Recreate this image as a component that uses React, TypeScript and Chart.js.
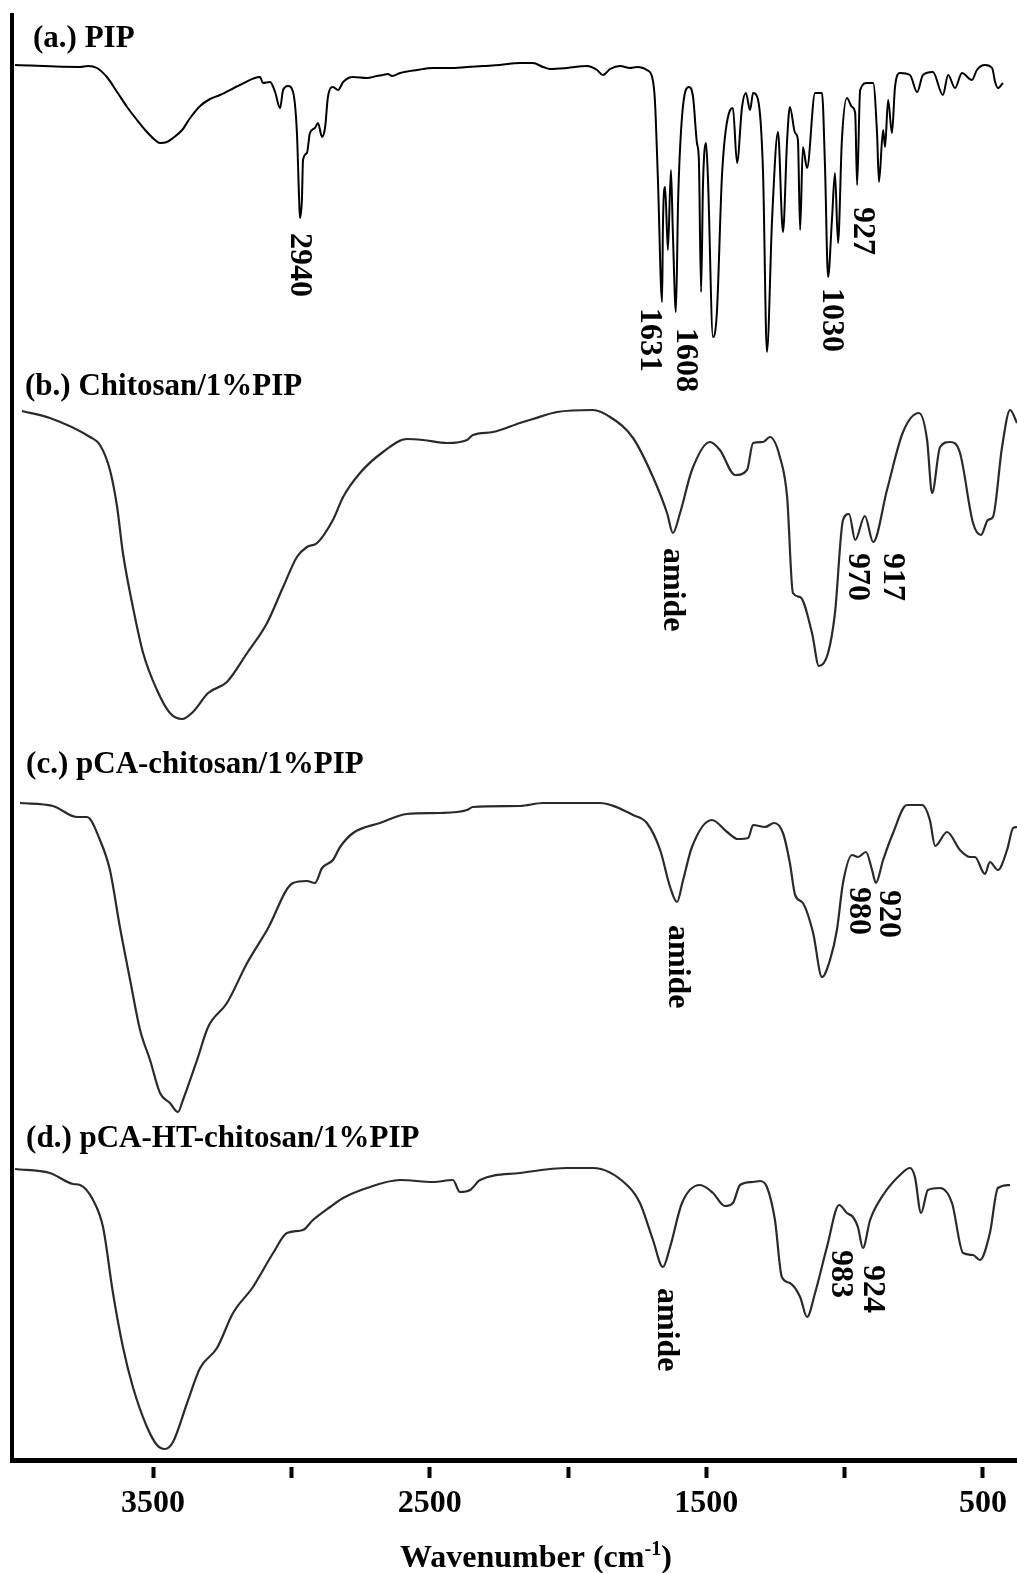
import React, { useEffect, useRef } from 'react';
import { Chart, registerables } from 'chart.js';

Chart.register(...registerables);

// ---------- Data (wavenumber in cm-1, transmittance in arbitrary units) ----------
const traceNames = ['(a.) PIP', '(b.) Chitosan/1%PIP', '(c.) pCA-chitosan/1%PIP', '(d.) pCA-HT-chitosan/1%PIP'];
const traceOffsets = [1050, 700, 330, 0];

const pipWavenumber = [3999, 3764, 3735, 3703, 3667, 3630, 3594, 3558, 3522, 3493, 3475, 3450, 3428, 3395, 3366, 3330, 3294, 3258, 3186, 3113, 3103, 3077, 3059, 3041, 3030, 3012, 2994, 2980, 2972, 2969, 2962, 2958, 2944, 2933, 2915, 2904, 2889, 2878, 2868, 2850, 2831, 2813, 2777, 2727, 2691, 2669, 2651, 2636, 2607, 2546, 2488, 2427, 2365, 2307, 2246, 2174, 2127, 2090, 2065, 2004, 1931, 1895, 1874, 1848, 1812, 1776, 1751, 1729, 1715, 1696, 1686, 1675, 1660, 1657, 1649, 1639, 1628, 1621, 1610, 1602, 1588, 1563, 1548, 1534, 1527, 1519, 1512, 1501, 1494, 1476, 1462, 1443, 1414, 1404, 1389, 1371, 1357, 1342, 1331, 1313, 1295, 1281, 1262, 1241, 1223, 1208, 1198, 1179, 1169, 1161, 1151, 1136, 1107, 1082, 1071, 1060, 1046, 1035, 1024, 1010, 992, 973, 962, 955, 944, 919, 897, 883, 876, 861, 854, 843, 829, 818, 800, 764, 738, 717, 681, 645, 626, 601, 576, 540, 522, 493, 467, 456, 446, 428];
const pipValue = [345, 343, 344, 342, 333, 318, 303, 290, 278, 270, 267, 268, 272, 280, 292, 304, 311, 315, 325, 333, 327, 328, 318, 302, 320, 324, 318, 277, 210, 192, 210, 250, 257, 277, 282, 287, 273, 283, 313, 323, 320, 328, 333, 332, 334, 335, 336, 334, 337, 340, 342, 342, 343, 344, 345, 347, 347, 343, 341, 342, 344, 340, 335, 341, 344, 342, 343, 342, 340, 333, 310, 230, 108, 183, 223, 160, 240, 177, 98, 210, 293, 323, 313, 267, 250, 118, 227, 267, 230, 73, 97, 237, 300, 302, 247, 303, 317, 300, 317, 310, 237, 58, 193, 278, 178, 270, 303, 277, 270, 180, 263, 242, 317, 317, 243, 133, 190, 237, 167, 270, 312, 303, 297, 225, 320, 327, 327, 277, 228, 280, 263, 310, 277, 323, 337, 335, 318, 335, 338, 315, 335, 322, 337, 330, 340, 345, 342, 328, 322, 327];

const chitosanWavenumber = [3974, 3873, 3728, 3692, 3656, 3630, 3609, 3573, 3536, 3486, 3439, 3395, 3356, 3301, 3233, 3160, 3088, 3030, 2980, 2944, 2907, 2850, 2813, 2752, 2669, 2582, 2524, 2437, 2365, 2344, 2271, 2174, 2127, 2040, 1910, 1848, 1765, 1693, 1642, 1621, 1595, 1552, 1487, 1451, 1396, 1353, 1331, 1295, 1270, 1234, 1208, 1187, 1161, 1118, 1093, 1060, 1035, 1006, 984, 962, 927, 897, 847, 789, 731, 702, 684, 655, 619, 583, 536, 507, 482, 464, 431, 402, 377];
const chitosanValue = [349, 342, 323, 315, 290, 253, 207, 153, 107, 70, 47, 41, 48, 67, 78, 107, 137, 173, 203, 213, 217, 240, 263, 287, 308, 321, 320, 317, 320, 325, 328, 337, 341, 348, 350, 343, 322, 283, 247, 227, 247, 290, 318, 310, 285, 290, 317, 318, 323, 303, 263, 167, 163, 127, 94, 107, 147, 240, 246, 220, 244, 218, 270, 328, 347, 320, 267, 313, 318, 307, 237, 225, 240, 243, 313, 350, 337];

const pcaWavenumber = [3981, 3862, 3775, 3739, 3692, 3656, 3620, 3583, 3547, 3511, 3475, 3439, 3410, 3392, 3341, 3301, 3233, 3160, 3088, 2994, 2944, 2915, 2889, 2850, 2824, 2777, 2680, 2582, 2463, 2365, 2344, 2174, 2090, 1884, 1765, 1715, 1667, 1631, 1606, 1584, 1552, 1480, 1425, 1386, 1349, 1331, 1288, 1255, 1223, 1198, 1179, 1151, 1114, 1082, 1053, 1028, 1006, 973, 952, 923, 901, 887, 861, 825, 775, 720, 692, 673, 630, 583, 547, 529, 493, 475, 446, 413, 391, 377];
const pcaValue = [327, 324, 313, 313, 290, 260, 203, 150, 100, 70, 37, 27, 18, 30, 70, 103, 127, 167, 200, 247, 249, 247, 262, 270, 283, 297, 307, 316, 317, 320, 323, 324, 327, 327, 315, 307, 280, 243, 228, 250, 283, 310, 298, 291, 292, 305, 303, 307, 297, 267, 235, 227, 197, 153, 170, 200, 247, 275, 273, 278, 260, 247, 270, 297, 325, 325, 310, 284, 298, 280, 273, 273, 256, 268, 260, 280, 302, 303];

const pcaHtWavenumber = [3999, 3873, 3789, 3764, 3717, 3681, 3645, 3609, 3573, 3522, 3486, 3457, 3428, 3377, 3330, 3269, 3211, 3139, 3066, 3016, 2958, 2922, 2860, 2813, 2727, 2607, 2488, 2416, 2391, 2354, 2318, 2174, 2004, 1910, 1787, 1740, 1693, 1657, 1631, 1588, 1523, 1476, 1433, 1404, 1378, 1331, 1306, 1281, 1252, 1227, 1198, 1161, 1136, 1107, 1064, 1020, 992, 970, 952, 934, 908, 861, 800, 764, 746, 724, 699, 655, 612, 572, 536, 511, 475, 446, 402];
const pcaHtValue = [291, 287, 276, 275, 260, 233, 167, 113, 73, 33, 15, 11, 18, 57, 92, 112, 147, 173, 207, 227, 230, 240, 253, 262, 272, 280, 278, 280, 268, 270, 280, 287, 292, 292, 275, 257, 220, 193, 213, 257, 275, 267, 254, 257, 275, 278, 279, 273, 240, 183, 177, 163, 143, 167, 213, 255, 247, 243, 233, 212, 240, 265, 285, 292, 283, 247, 270, 272, 257, 207, 205, 200, 227, 272, 275];

// Peak annotations
const peakLabelTexts = ['2940', '1631', '1608', '1030', '927', 'amide', '970', '917', 'amide', '980', '920', 'amide', '983', '924'];
const peakLabelTrace = [0, 0, 0, 0, 0, 1, 1, 1, 2, 2, 2, 3, 3, 3];
const peakLabelWavenumber = [2972, 1707, 1577, 1049, 937, 1624, 955, 829, 1606, 952, 843, 1646, 1017, 901];
const peakLabelLevel = [177, 102, 82, 122, 203, 212, 207, 207, 205, 243, 240, 172, 210, 195];

// Trace title anchors
const titleWavenumber = [3934, 3963, 3959, 3959];
const titleLevel = [363, 365, 357, 313];

// Axis
const xMin = 377;
const xMax = 4010;
const tickValues = [3500, 3000, 2500, 2000, 1500, 1000, 500];
const tickLabels = ['3500', '', '2500', '', '1500', '', '500'];
const axisTitleMain = 'Wavenumber (cm';
const axisTitleSup = '-1';
const axisTitleEnd = ')';
const axisTitleCenterWavenumber = 2116;

const SERIF = '"Liberation Serif", "Times New Roman", Times, serif';

const traceWavenumbers = [pipWavenumber, chitosanWavenumber, pcaWavenumber, pcaHtWavenumber];
const traceValues = [pipValue, chitosanValue, pcaValue, pcaHtValue];
const traceColors = ['#000000', '#2a2a2a', '#2a2a2a', '#2a2a2a'];

const textPlugin = {
  id: 'ftirText',
  afterDraw(chart: any) {
    const ctx = chart.ctx;
    const xs = chart.scales.x;
    const ys = chart.scales.y;
    ctx.save();
    ctx.fillStyle = '#000';

    // trace titles
    ctx.font = `bold 31px ${SERIF}`;
    ctx.textAlign = 'left';
    ctx.textBaseline = 'alphabetic';
    traceNames.forEach((name, i) => {
      const x = xs.getPixelForValue(titleWavenumber[i]);
      const y = ys.getPixelForValue(titleLevel[i] + traceOffsets[i]);
      ctx.fillText(name, x, y);
    });

    // rotated peak labels
    ctx.font = `bold 32px ${SERIF}`;
    ctx.textBaseline = 'middle';
    peakLabelTexts.forEach((t, i) => {
      const x = xs.getPixelForValue(peakLabelWavenumber[i]);
      const y = ys.getPixelForValue(peakLabelLevel[i] + traceOffsets[peakLabelTrace[i]]);
      ctx.save();
      ctx.translate(x, y);
      ctx.rotate(Math.PI / 2);
      ctx.textAlign = 'left';
      ctx.fillText(t, 0, 0);
      ctx.restore();
    });

    // axis title with superscript
    ctx.textBaseline = 'alphabetic';
    ctx.textAlign = 'left';
    const mainFont = `bold 32px ${SERIF}`;
    const supFont = `bold 20px ${SERIF}`;
    ctx.font = mainFont;
    const w1 = ctx.measureText(axisTitleMain).width;
    const w3 = ctx.measureText(axisTitleEnd).width;
    ctx.font = supFont;
    const w2 = ctx.measureText(axisTitleSup).width;
    const total = w1 + w2 + w3;
    const cx = xs.getPixelForValue(axisTitleCenterWavenumber);
    const baseY = chart.height - 6;
    const x0 = cx - total / 2;
    ctx.font = mainFont;
    ctx.fillText(axisTitleMain, x0, baseY);
    ctx.font = supFont;
    ctx.fillText(axisTitleSup, x0 + w1, baseY - 12);
    ctx.font = mainFont;
    ctx.fillText(axisTitleEnd, x0 + w1 + w2, baseY);
    ctx.restore();
  },
};

export default function App() {
  const canvasRef = useRef<HTMLCanvasElement | null>(null);

  useEffect(() => {
    document.body.style.margin = '0';
    const canvas = canvasRef.current;
    if (!canvas) return;

    const datasets = traceWavenumbers.map((wns, i) => ({
      label: traceNames[i],
      data: wns.map((w, j) => ({ x: w, y: traceValues[i][j] + traceOffsets[i] })),
      borderColor: traceColors[i],
      backgroundColor: traceColors[i],
      borderWidth: i === 0 ? 2 : 2.2,
      pointRadius: 0,
      fill: false,
      tension: 0.4,
      cubicInterpolationMode: 'monotone',
    }));

    const chart = new Chart(canvas, {
      type: 'line',
      data: { datasets: datasets as any },
      options: {
        animation: false,
        responsive: false,
        devicePixelRatio: 1,
        parsing: false as any,
        layout: { padding: { left: 12, top: 15, right: 0, bottom: 0 } },
        plugins: { legend: { display: false }, tooltip: { enabled: false } },
        elements: { point: { radius: 0 } },
        scales: {
          x: {
            type: 'linear',
            min: xMin,
            max: xMax,
            reverse: true,
            afterBuildTicks: (s: any) => {
              s.ticks = tickValues.map((v) => ({ value: v }));
            },
            afterFit: (s: any) => {
              s.height = 113;
            },
            ticks: {
              autoSkip: false,
              maxRotation: 0,
              minRotation: 0,
              padding: 7,
              color: '#000',
              font: { family: SERIF, size: 32, weight: 'bold' },
              callback: (v: any) => {
                const idx = tickValues.indexOf(Number(v));
                return idx >= 0 ? tickLabels[idx] : '';
              },
            },
            grid: {
              drawOnChartArea: false,
              drawTicks: true,
              tickLength: 18,
              tickWidth: 4,
              tickColor: '#000',
              tickBorderDash: [0, 4, 14, 100],
            },
            border: { display: true, width: 5, color: '#000' },
          },
          y: {
            type: 'linear',
            min: 0,
            max: 1445,
            ticks: { display: false },
            grid: { display: false, drawTicks: false },
            border: { display: true, width: 4, color: '#000' },
            afterFit: (s: any) => {
              s.width = 0;
            },
          },
        },
      } as any,
      plugins: [textPlugin],
    });

    return () => {
      chart.destroy();
    };
  }, []);

  return (
    <div style={{ position: 'absolute', left: 0, top: 0, width: 1017, height: 1573, background: '#fff' }}>
      <canvas ref={canvasRef} width={1017} height={1573} style={{ display: 'block' }} />
    </div>
  );
}
